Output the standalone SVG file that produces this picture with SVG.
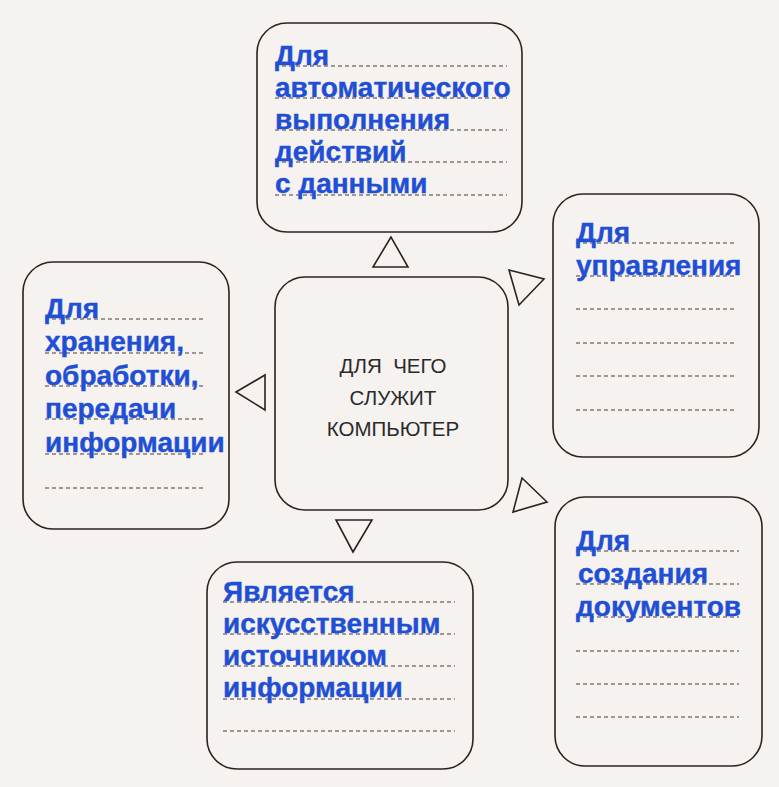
<svg xmlns="http://www.w3.org/2000/svg" width="779" height="787" viewBox="0 0 779 787">
<style>
.bg{fill:#f6f2f0}
.box{fill:none;stroke:#2a2420;stroke-width:1.6}
.t{font-family:"Liberation Sans","Arial",sans-serif;font-weight:bold;font-size:28px;fill:#1f4fd4;stroke:#1f4fd4;stroke-width:0.4}
.c{font-family:"Liberation Sans","Arial",sans-serif;font-size:20.5px;fill:#2a2a2a;text-anchor:middle}
.d{stroke:#4a3c34;stroke-width:1;stroke-dasharray:4 3;fill:none}
.tri{fill:none;stroke:#2a2420;stroke-width:1.6;stroke-linejoin:miter}
</style>
<rect class="bg" x="0" y="0" width="779" height="787"/>

<g id="center">
<rect class="box" x="275" y="277" width="233" height="233" rx="30"/>
<text class="c" x="393" y="373" xml:space="preserve">ДЛЯ  ЧЕГО</text>
<text class="c" x="393" y="405">СЛУЖИТ</text>
<text class="c" x="393" y="436">КОМПЬЮТЕР</text>
</g>

<g id="top">
<rect class="box" x="257" y="23" width="265" height="209" rx="30"/>
<path class="d" d="M275 66H507M275 98H507M275 130H507M275 162H507M275 195H507"/>
<text class="t" x="275" y="65">Для</text>
<text class="t" x="275" y="97">автоматического</text>
<text class="t" x="275" y="129">выполнения</text>
<text class="t" x="275" y="161">действий</text>
<text class="t" x="275" y="193">с данными</text>
</g>

<g id="right-top">
<rect class="box" x="553" y="194" width="206" height="263" rx="30"/>
<path class="d" d="M576 243H737M576 276H737M576 309H737M576 343H737M576 376H737M576 410H737"/>
<text class="t" x="576" y="242">Для</text>
<text class="t" x="576" y="275">управления</text>
</g>

<g id="left">
<rect class="box" x="23" y="262" width="206" height="267" rx="30"/>
<path class="d" d="M45 319H205M45 353H205M45 386H205M45 419H205M45 454H205M45 488H205"/>
<text class="t" x="45" y="318">Для</text>
<text class="t" x="45" y="351">хранения,</text>
<text class="t" x="45" y="385">обработки,</text>
<text class="t" x="45" y="418">передачи</text>
<text class="t" x="45" y="452">информации</text>
</g>

<g id="bottom">
<rect class="box" x="207" y="562" width="266" height="207" rx="30"/>
<path class="d" d="M223 602H455M223 634H455M223 666H455M223 699H455M223 731H455"/>
<text class="t" x="223" y="601">Является</text>
<text class="t" x="223" y="633">искусственным</text>
<text class="t" x="223" y="665">источником</text>
<text class="t" x="223" y="697">информации</text>
</g>

<g id="right-bottom">
<rect class="box" x="555" y="497" width="207" height="269" rx="30"/>
<path class="d" d="M576 551H739M576 584H739M576 617H739M576 651H739M576 684H739M576 717H739"/>
<text class="t" x="576" y="550">Для</text>
<text class="t" x="578" y="583">создания</text>
<text class="t" x="576" y="616">документов</text>
</g>

<g id="connectors">
<polygon class="tri" points="391,237 373,267 408,267"/>
<polygon class="tri" points="509,270 544,279 519,305"/>
<polygon class="tri" points="522,478 547,502 513,512"/>
<polygon class="tri" points="336,520 372,520 353,552"/>
<polygon class="tri" points="236,392 265,375 265,410"/>
</g>
</svg>
